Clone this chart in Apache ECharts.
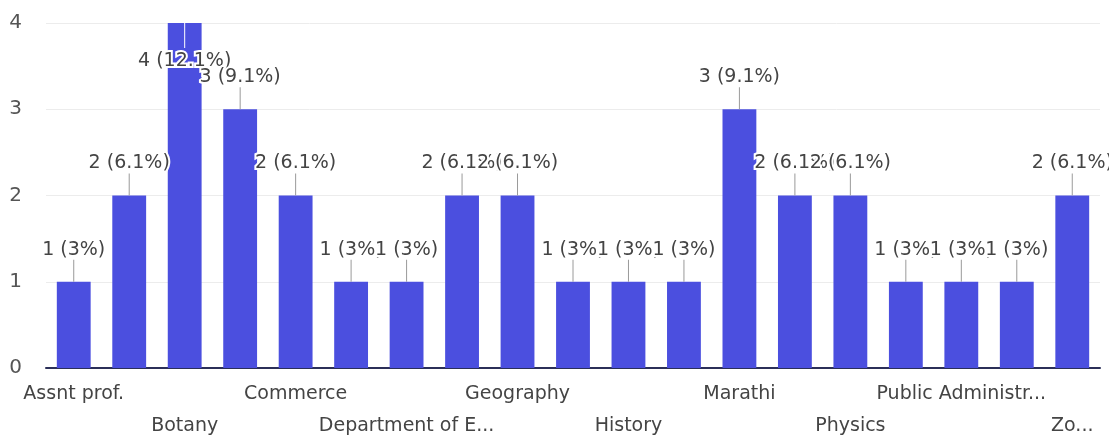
<!DOCTYPE html>
<html>
<head>
<meta charset="utf-8">
<script src="https://cdn.jsdelivr.net/npm/echarts@6/dist/echarts.min.js"></script>
<style>
html,body{margin:0;padding:0;background:#fff;}
#chart{width:1109px;height:442px;}
</style>
</head>
<body>
<div id="chart"></div>
<script>
const categories = [
  "Assnt prof.", "Biology", "Botany", "Chemistry", "Commerce", "Computer Science",
  "Department of E...", "English", "Geography", "Hindi", "History", "Home Science",
  "Marathi", "Mathematics", "Physics", "Political Science", "Public Administr...",
  "Sociology", "Zo..."
];
const counts = [1, 2, 4, 3, 2, 1, 1, 2, 2, 1, 1, 1, 3, 2, 2, 1, 1, 1, 2];
const percentLabels = [
  "3%", "6.1%", "12.1%", "9.1%", "6.1%", "3%", "3%", "6.1%", "6.1%", "3%",
  "3%", "3%", "9.1%", "6.1%", "6.1%", "3%", "3%", "3%", "6.1%"
];
const yTicks = [0, 1, 2, 3, 4];

const FONT = "DejaVu Sans";
const chart = echarts.init(document.getElementById('chart'));

const labelData = counts.map((v, i) => [i, v, v + " (" + percentLabels[i] + ")"]);

chart.setOption({
  animation: false,
  backgroundColor: '#ffffff',
  grid: { left: 46, right: 9, top: 23, bottom: 70 },
  xAxis: {
    type: 'category',
    data: categories,
    axisLine: { lineStyle: { color: '#2b2f58', width: 2 } },
    axisTick: { show: false },
    axisLabel: {
      interval: 1,
      margin: 10,
      color: '#444',
      fontFamily: FONT,
      fontSize: 19,
      lineHeight: 32,
      formatter: function (value, index) {
        return (index / 2) % 2 === 1 ? '\n' + value : value;
      }
    }
  },
  yAxis: {
    type: 'value',
    min: yTicks[0],
    max: yTicks[yTicks.length - 1],
    interval: 1,
    axisLine: { show: false },
    axisTick: { show: false },
    splitLine: { lineStyle: { color: '#ececec', width: 1 } },
    axisLabel: { color: '#555', fontFamily: FONT, fontSize: 20, margin: 24 }
  },
  series: [
    {
      type: 'bar',
      data: counts,
      barWidth: '61%',
      itemStyle: { color: '#4b4fdf' },
      z: 2
    },
    {
      type: 'custom',
      data: labelData,
      z: 5,
      encode: { x: 0, y: 1 },
      renderItem: function (params, api) {
        const p = api.coord([api.value(0), api.value(1)]);
        const top = p[1];
        const text = labelData[params.dataIndex][2];
        const inside = top - 40 < 0;
        let lineY1, lineY2, textY, lineColor;
        if (inside) {
          lineY1 = top; lineY2 = top + 25; textY = top + 38; lineColor = '#ffffff';
        } else {
          lineY1 = top - 22; lineY2 = top; textY = top - 32; lineColor = '#9a9a9a';
        }
        return {
          type: 'group',
          children: [
            {
              type: 'line',
              shape: { x1: p[0], y1: lineY1, x2: p[0], y2: lineY2 },
              style: { stroke: lineColor, lineWidth: 1 }
            },
            {
              type: 'text',
              x: p[0], y: textY,
              style: {
                text: text,
                align: 'center',
                verticalAlign: 'middle',
                fill: '#444',
                fontFamily: FONT,
                fontSize: 19,
                stroke: '#ffffff',
                lineWidth: 4
              }
            }
          ]
        };
      }
    }
  ]
});
</script>
</body>
</html>
